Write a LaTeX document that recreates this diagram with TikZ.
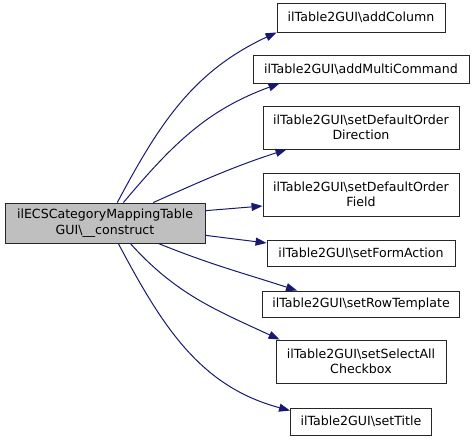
\documentclass[tikz,border=0pt]{standalone}
\usepackage{fontspec}
\setmainfont{DejaVu Sans}
\usepackage{xcolor}
\definecolor{edgeblue}{HTML}{191970}
\definecolor{nodegray}{HTML}{BFBFBF}
\usetikzlibrary{arrows.meta, positioning}

\begin{document}
\begin{tikzpicture}[every node/.style={font=\fontsize{12.6}{15.5}\selectfont, align=center},
    fnbox/.style={draw=black!85, line width=0.9pt, fill=white, inner sep=1pt},
    call/.style={-{Triangle[length=11pt,width=8pt]}, draw=edgeblue, line width=1pt}]
    \useasboundingbox (0,0) rectangle (475pt,-440pt);

    % Caller
    \node[fnbox, fill=nodegray, minimum width=200pt, minimum height=40pt] (construct) at (105pt,-223pt) {ilECSCategoryMappingTable\\GUI\textbackslash\_\_construct};

    % Callees (vertical layout)
    \node[fnbox, minimum width=168pt, minimum height=29pt] (addcolumn) at (361pt,-17.5pt) {ilTable2GUI\textbackslash addColumn};
    \node[fnbox, minimum width=216pt, minimum height=28pt, node distance=51.5pt, below of=addcolumn] (addmulti) {ilTable2GUI\textbackslash addMultiCommand};
    \node[fnbox, minimum width=196pt, minimum height=43pt, node distance=58.5pt, below of=addmulti] (orderdir) {ilTable2GUI\textbackslash setDefaultOrder\\Direction};
    \node[fnbox, minimum width=196pt, minimum height=43pt, node distance=67pt, below of=orderdir] (orderfield) {ilTable2GUI\textbackslash setDefaultOrder\\Field};
    \node[fnbox, minimum width=188pt, minimum height=26pt, node distance=58.5pt, below of=orderfield] (formaction) {ilTable2GUI\textbackslash setFormAction};
    \node[fnbox, minimum width=197pt, minimum height=26pt, node distance=51pt, below of=formaction] (rowtemplate) {ilTable2GUI\textbackslash setRowTemplate};
    \node[fnbox, minimum width=170pt, minimum height=43pt, node distance=57.5pt, below of=rowtemplate] (selectall) {ilTable2GUI\textbackslash setSelectAll\\Checkbox};
    \node[fnbox, minimum width=141pt, minimum height=27pt, node distance=60pt, below of=selectall] (settitle) {ilTable2GUI\textbackslash setTitle};

    % Calls
    \draw[call] (construct.59) to[out=62, in=205] (addcolumn.south west);
    \draw[call] (construct.48) to[out=50, in=200] ([xshift=27pt]addmulti.south west);
    \draw[call] (construct.23) to[out=24, in=198] ([xshift=24pt]orderdir.south west);
    \draw[call] (construct.7) -- ([yshift=-11.5pt]orderfield.west);
    \draw[call] (construct.-7) -- ([yshift=10pt]formaction.west);
    \draw[call] (construct.-21) to[out=-22, in=162] ([xshift=35pt]rowtemplate.north west);
    \draw[call] (construct.-39) to[out=-48, in=155] ([xshift=4pt]selectall.north west);
    \draw[call] (construct.-57) to[out=-62, in=165] ([yshift=-3pt]settitle.north west);
\end{tikzpicture}
\end{document}
